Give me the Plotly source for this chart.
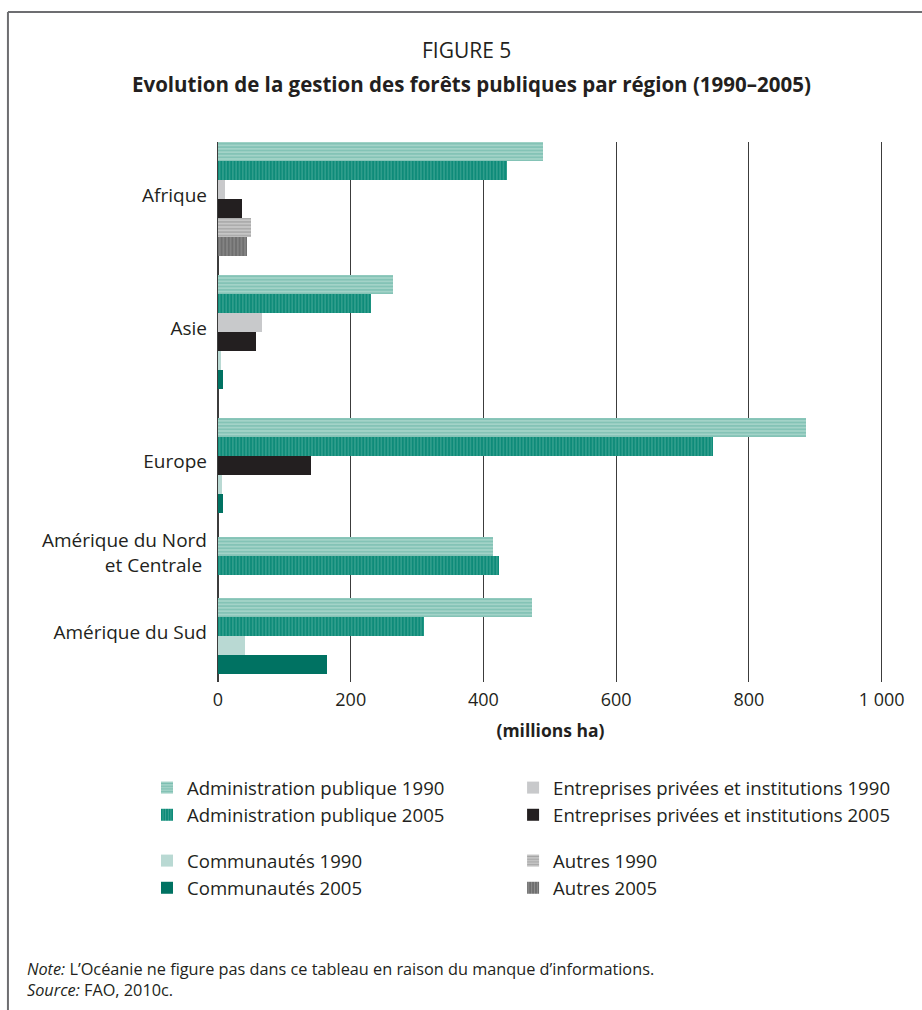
import plotly.graph_objects as go

# ---------------- data ----------------
REGIONS = ["Afrique", "Asie", "Europe", "Amérique du Nord<br>et Centrale ", "Amérique du Sud"]

SERIES_NAMES = [
    "Administration publique 1990",
    "Administration publique 2005",
    "Entreprises privées et institutions 1990",
    "Entreprises privées et institutions 2005",
    "Communautés 1990",
    "Communautés 2005",
    "Autres 1990",
    "Autres 2005",
]

# millions ha, per region (None = not shown)
ADMIN_1990 = [489, 264, 886, 415, 473]
ADMIN_2005 = [436, 231, 746, 424, 311]
PRIVE_1990 = [10, 66, None, None, None]
PRIVE_2005 = [36, 57, 140, None, None]
COMM_1990 = [None, 4.5, 6, None, 41]
COMM_2005 = [None, 7.5, 7.5, None, 164]
AUTRES_1990 = [50, None, None, None, None]
AUTRES_2005 = [44, None, None, None, None]

X_TICK_VALUES = [0, 200, 400, 600, 800, 1000]
X_TICK_LABELS = ["0", "200", "400", "600", "800", "1 000"]

VALUES = [ADMIN_1990, ADMIN_2005, PRIVE_1990, PRIVE_2005,
          COMM_1990, COMM_2005, AUTRES_1990, AUTRES_2005]

# ---------------- styles ----------------
STYLES = [
    dict(color="#a3d3c8", pattern=dict(shape="-", fgcolor="#55aa9a", size=3.4, solidity=0.4, fillmode="overlay")),
    dict(color="#0e8b79", pattern=dict(shape="|", fgcolor="#7cc6b7", size=3.3, solidity=0.3, fillmode="overlay")),
    dict(color="#c8c9cb"),
    dict(color="#231f20"),
    dict(color="#b9d9d3"),
    dict(color="#007262"),
    dict(color="#c6c6c6", pattern=dict(shape="-", fgcolor="#858585", size=3.4, solidity=0.4, fillmode="overlay")),
    dict(color="#6f6f6f", pattern=dict(shape="|", fgcolor="#b2b2b2", size=3.6, solidity=0.3, fillmode="overlay")),
]
LEGEND_OF = ["legend", "legend", "legend2", "legend2", "legend3", "legend3", "legend4", "legend4"]
GROUP_GAPS = [1.0, 1.5, 1.3, 1.2]   # spacing between region groups (bar units)
BOTTOM_PAD = 0.42
LABEL_SHIFT = 0.17                  # region labels sit slightly above group centre

FONT = "Open Sans, Liberation Sans, sans-serif"
TXT = "#231f20"

# ---------------- layout helpers (pixel geometry) ----------------
W, H = 922, 1010
L, T = 218, 142
XMAX = 1002
PX_PER_UNIT = 0.6635
PLOT_W = XMAX * PX_PER_UNIT
R = W - L - PLOT_W
PLOT_H = 540
B = H - T - PLOT_H


def px_x(px):
    return (px - L) / PLOT_W


def px_y(py):
    return (T + PLOT_H - py) / PLOT_H


# ---------------- bar positions from data ----------------
ys = [[] for _ in SERIES_NAMES]
xs = [[] for _ in SERIES_NAMES]
centers = []
cursor = 0.0
for ri, region in enumerate(REGIONS):
    if ri > 0:
        cursor += GROUP_GAPS[ri - 1]
    start = cursor
    for si, vals in enumerate(VALUES):
        v = vals[ri]
        if v is not None:
            ys[si].append(cursor + 0.5)
            xs[si].append(v)
            cursor += 1
    centers.append((start + cursor) / 2 - LABEL_SHIFT)

fig = go.Figure()
for si, name in enumerate(SERIES_NAMES):
    fig.add_trace(go.Bar(
        x=xs[si], y=ys[si], orientation="h", width=1.0, name=name,
        marker=dict(line=dict(width=0), **STYLES[si]),
        legend=LEGEND_OF[si],
        hovertemplate="%{x} millions ha<extra>" + name + "</extra>",
    ))

legend_common = dict(font=dict(family=FONT, size=18.6, color=TXT), bgcolor="rgba(0,0,0,0)",
                     xanchor="left", yanchor="top", orientation="v", traceorder="normal",
                     itemclick=False, itemdoubleclick=False)

fig.update_layout(
    width=W, height=H,
    margin=dict(l=L, r=R, t=T, b=B, autoexpand=False),
    paper_bgcolor="white", plot_bgcolor="white",
    barmode="overlay", bargap=0,
    font=dict(family=FONT, color=TXT),
    xaxis=dict(range=[0, XMAX], tickvals=X_TICK_VALUES, ticktext=X_TICK_LABELS,
               showgrid=True, gridcolor="#3c3c3c", gridwidth=1.3,
               zeroline=True, zerolinecolor="#3c3c3c", zerolinewidth=1.5,
               showline=False, ticks="", tickfont=dict(size=18, family=FONT, color=TXT),
               ticklabelstandoff=5,
               title=dict(text="<b>(millions ha)</b>", font=dict(size=17.5, family=FONT, color=TXT), standoff=14)),
    yaxis=dict(range=[cursor + BOTTOM_PAD, 0], tickvals=centers, ticktext=REGIONS,
               showgrid=False, zeroline=False, showline=False, ticks="",
               tickfont=dict(size=19, family=FONT, color=TXT), ticklabelstandoff=10),
    legend=dict(x=px_x(147), y=px_y(769), **legend_common),
    legend2=dict(x=px_x(513), y=px_y(769), **legend_common),
    legend3=dict(x=px_x(147), y=px_y(842), **legend_common),
    legend4=dict(x=px_x(513), y=px_y(842), **legend_common),
    showlegend=True,
)

# frame lines
fig.add_shape(type="line", xref="paper", yref="paper", x0=px_x(8), x1=px_x(W + 5), y0=px_y(12), y1=px_y(12),
              line=dict(color="#6d6e71", width=2))
fig.add_shape(type="line", xref="paper", yref="paper", x0=px_x(8), x1=px_x(8), y0=px_y(12), y1=px_y(H + 5),
              line=dict(color="#6d6e71", width=2))

# titles
fig.add_annotation(text="FIGURE 5", xref="paper", yref="paper", x=px_x(466), y=px_y(50),
                   xanchor="center", yanchor="middle", showarrow=False,
                   font=dict(family=FONT, size=21, color=TXT))
fig.add_annotation(text="<b>Evolution de la gestion des forêts publiques par région (1990–2005)</b>",
                   xref="paper", yref="paper", x=px_x(471), y=px_y(84),
                   xanchor="center", yanchor="middle", showarrow=False,
                   font=dict(family=FONT, size=20.5, color=TXT))

# notes
fig.add_annotation(text="<i>Note:</i> L’Océanie ne figure pas dans ce tableau en raison du manque d’informations.",
                   xref="paper", yref="paper", x=px_x(25), y=px_y(969),
                   xanchor="left", yanchor="middle", showarrow=False,
                   font=dict(family=FONT, size=16.3, color=TXT))
fig.add_annotation(text="<i>Source:</i> FAO, 2010c.",
                   xref="paper", yref="paper", x=px_x(25), y=px_y(990),
                   xanchor="left", yanchor="middle", showarrow=False,
                   font=dict(family=FONT, size=16.3, color=TXT))

fig.write_html("out.html")
